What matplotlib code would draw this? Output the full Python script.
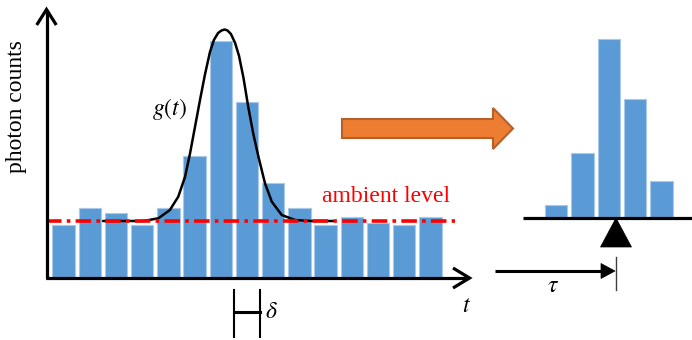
import numpy as np
import matplotlib
matplotlib.use('Agg')
from matplotlib import pyplot as plt
from matplotlib.patches import Polygon

plt.rcParams['font.family'] = ['Liberation Serif', 'DejaVu Serif']
plt.rcParams['mathtext.fontset'] = 'stix'

# photon counts per time bin (left histogram)
counts = [10, 13.2, 12.3, 10, 13.2, 23.3, 45.3, 33.6, 18, 13.2, 10, 11.6, 10.4, 10, 11.6]
ambient = 10.8
# fitted pulse g(t) (bin units, count units)
g_t = [1.51, 3.05, 3.62, 4.06, 4.38, 4.64, 4.83, 5.02, 5.21, 5.40, 5.59, 5.74, 5.90, 6.03,
       6.15, 6.26, 6.39, 6.55, 6.70, 6.87, 7.05, 7.24, 7.44, 7.69, 7.95, 8.33, 8.84, 9.47, 10.29]
g_val = [10.77, 10.77, 11.29, 12.88, 15.44, 19.29, 23.79, 28.90, 34.04, 38.96, 43.27, 45.58, 46.92, 47.4,
         47.6, 47.4, 46.73, 45.0, 42.5, 38.27, 32.75, 27.63, 23.13, 18.02, 14.48, 11.92, 10.96, 10.77, 10.77]
# ambient-subtracted signal (right histogram)
signal = [2.3, 12.2, 34.2, 22.6, 6.9]

blue = '#5B9BD5'
edge = '#A9C8EA'
W, H = 692, 340

fig = plt.figure(figsize=(W / 100, H / 100), dpi=100)

# overlay in pixel coords for arrows and labels
ax = fig.add_axes([0, 0, 1, 1])
ax.set_xlim(0, W)
ax.set_ylim(H, 0)
ax.axis('off')
ax.set_zorder(3)
ax.patch.set_alpha(0)

# left histogram
axl = fig.add_axes([46 / W, (H - 277) / H, 424 / W, 269 / H])
axl.set_xlim(-0.668, 15.515)
axl.set_ylim(0, 51.73)
axl.axis('off')
axl.patch.set_alpha(0)
axl.bar(np.arange(len(counts)), counts, width=0.855, color=blue, edgecolor=edge, linewidth=0.8)
axl.plot(g_t, g_val, color='black', lw=1.8, zorder=4, solid_capstyle='round', solid_joinstyle='round')
axl.plot([-0.65, 14.95], [ambient, ambient], color='red', lw=2.6,
         linestyle=(0, (4.3, 1.45, 1.0, 1.45)), zorder=5)
# bin width marker
axl.plot([6.5, 6.5], [-2.5, -11.5], color='black', lw=1.5, clip_on=False)
axl.plot([7.5, 7.5], [-2.5, -11.5], color='black', lw=1.5, clip_on=False)
axl.plot([6.5, 7.5], [-6.8, -6.8], color='black', lw=2.2, clip_on=False)

# right histogram
axr = fig.add_axes([523 / W, (H - 216.5) / H, 169 / W, 208.5 / H])
axr.set_xlim(-1.262, 5.163)
axr.set_ylim(0, 40.1)
axr.axis('off')
axr.patch.set_alpha(0)
axr.bar(np.arange(len(signal)), signal, width=0.85, color=blue, edgecolor=edge, linewidth=0.8)

# axes with open arrowheads
ax.plot([46.5, 46.5], [279, 10], color='black', lw=2.3, solid_capstyle='butt')
ax.plot([36.7, 46.5, 56.3], [25, 9.5, 25], color='black', lw=2.3,
        solid_joinstyle='miter', solid_capstyle='butt')
ax.plot([45.5, 469], [278, 278], color='black', lw=2.3, solid_capstyle='butt')
ax.plot([453, 469.5, 453], [268, 278, 288], color='black', lw=2.3,
        solid_joinstyle='miter', solid_capstyle='butt')

# right baseline and pivot
ax.plot([523, 692], [217.5, 217.5], color='black', lw=2.3, solid_capstyle='butt')
ax.add_patch(Polygon([(616, 218), (600.5, 247), (631.5, 247)], closed=True,
                     facecolor='black', edgecolor='black', lw=0.5))

# tau arrow
ax.plot([495, 603], [271, 271], color='black', lw=2.2, solid_capstyle='butt')
ax.add_patch(Polygon([(615, 271), (601, 263.5), (601, 278.5)], closed=True,
                     facecolor='black', edgecolor='black', lw=0.5))
ax.plot([615.8, 615.8], [257, 290], color='#404040', lw=1.0)

# orange transform arrow
ax.add_patch(Polygon([(342, 119), (493, 119), (493, 108), (513, 128.5),
                      (493, 149), (493, 138), (342, 138)], closed=True,
                     facecolor='#ED7D31', edgecolor='#B5602A', lw=1.5, zorder=2))

# labels
ax.text(17, 107, 'photon counts', rotation=90, ha='center', va='center', fontsize=17)
ax.text(169, 109, r'$g(t)$', ha='center', va='center', fontsize=17)
ax.text(386, 196, 'ambient level', color='red', ha='center', va='center', fontsize=17)
ax.text(467, 306, r'$t$', ha='center', va='center', fontsize=17)
ax.text(271, 312, r'$\delta$', ha='center', va='center', fontsize=17)
ax.text(553, 286, r'$\tau$', ha='center', va='center', fontsize=17)

fig.savefig('out.png', dpi=100)
